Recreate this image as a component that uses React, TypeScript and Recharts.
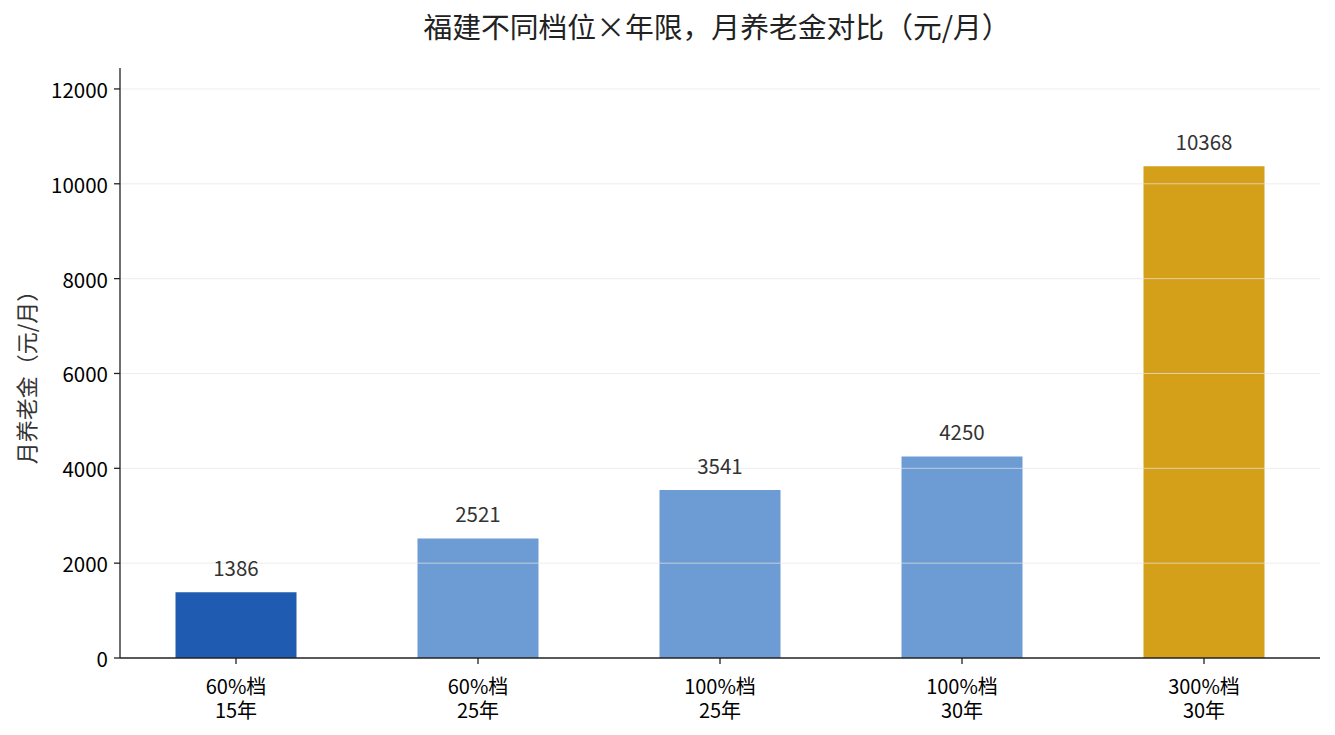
import React from "react";
import {
  BarChart,
  Bar,
  XAxis,
  YAxis,
  Cell,
  LabelList,
  ReferenceLine,
} from "recharts";

// 档位 x 缴费年限
const tiers = ["60%档", "60%档", "100%档", "100%档", "300%档"];
const years = ["15年", "25年", "25年", "30年", "30年"];
const pension = [1386, 2521, 3541, 4250, 10368];
const barColors = ["#1f5bb0", "#6d9bd3", "#6d9bd3", "#6d9bd3", "#d4a01a"];
const yTicks = [0, 2000, 4000, 6000, 8000, 10000, 12000];

const data = pension.map((v, i) => ({
  key: `${tiers[i]}\n${years[i]}`,
  value: v,
}));

const FONT = '"Noto Sans CJK SC", "Noto Sans", sans-serif';

function XTick(props: any) {
  const { x, y, payload } = props;
  const [a, b] = String(payload.value).split("\n");
  const style = { fill: "#000", fontSize: 20, fontFamily: FONT };
  return (
    <g transform={`translate(${x},${y})`}>
      <text x={0} y={19} textAnchor="middle" dominantBaseline="central" {...style}>
        {a}
      </text>
      <text x={0} y={43} textAnchor="middle" dominantBaseline="central" {...style}>
        {b}
      </text>
    </g>
  );
}

function YTick(props: any) {
  const { x, y, payload } = props;
  return (
    <text
      x={x - 4}
      y={y}
      textAnchor="end"
      dominantBaseline="central"
      fill="#000"
      fontSize={20.5}
      fontFamily={FONT}
    >
      {payload.value}
    </text>
  );
}

function YLabel(props: any) {
  const { viewBox } = props;
  const cy = viewBox.y + viewBox.height / 2 + 9;
  return (
    <text
      x={25}
      y={cy}
      transform={`rotate(-90 25 ${cy})`}
      textAnchor="middle"
      dominantBaseline="central"
      fill="#333"
      fontSize={22}
      fontFamily={FONT}
    >
      月养老金（元/月）
    </text>
  );
}

export default function App() {
  return (
    <div
      style={{
        position: "absolute",
        left: 0,
        top: 0,
        width: 1335,
        height: 735,
        background: "#fff",
        fontFamily: FONT,
      }}
    >
      <div
        style={{
          position: "absolute",
          left: 0,
          top: 6,
          width: 1434,
          textAlign: "center",
          fontSize: 28.8,
          color: "#222",
          lineHeight: "40px",
        }}
      >
        福建不同档位×年限，月养老金对比（元/月）
      </div>
      <BarChart
        width={1335}
        height={735}
        data={data}
        margin={{ top: 68, right: 15, left: 0, bottom: 0 }}
        barCategoryGap="25%"
      >
        <XAxis
          dataKey="key"
          interval={0}
          padding={{ left: -5, right: -5 }}
          tick={<XTick />}
          tickSize={6}
          axisLine={{ stroke: "#222", strokeWidth: 1.3 }}
          tickLine={{ stroke: "#222", strokeWidth: 1.3 }}
          height={77}
        />
        <YAxis
          width={120}
          domain={[0, 12441.6]}
          ticks={yTicks}
          allowDataOverflow
          tickSize={6}
          tick={<YTick />}
          axisLine={{ stroke: "#222", strokeWidth: 1.3 }}
          tickLine={{ stroke: "#222", strokeWidth: 1.3 }}
          label={<YLabel />}
        />
        <Bar dataKey="value" isAnimationActive={false}>
          {data.map((d, i) => (
            <Cell key={d.key + i} fill={barColors[i]} />
          ))}
          <LabelList
            dataKey="value"
            position="top"
            offset={16}
            fill="#333"
            fontSize={20.5}
            fontFamily={FONT}
          />
        </Bar>
        {yTicks.slice(1).map((t) => (
          <ReferenceLine
            key={t}
            y={t}
            stroke="#e5e5e5"
            strokeOpacity={0.7}
            strokeWidth={1}
          />
        ))}
      </BarChart>
    </div>
  );
}
